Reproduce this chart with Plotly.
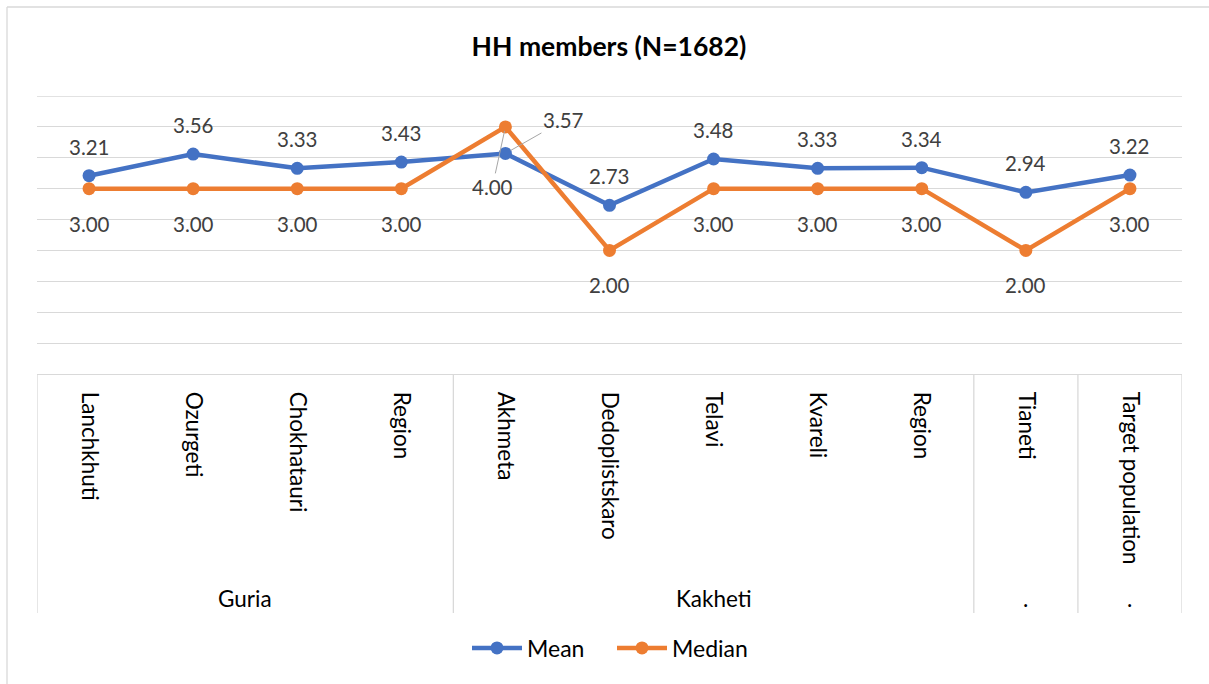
import plotly.graph_objects as go

categories = ["Lanchkhuti", "Ozurgeti", "Chokhatauri", "Region", "Akhmeta",
              "Dedoplistskaro", "Telavi", "Kvareli", "Region", "Tianeti",
              "Target population"]
groups = ["Guria", "Kakheti", ".", "."]
group_sizes = [4, 5, 1, 1]
mean_vals = [3.21, 3.56, 3.33, 3.43, 3.57, 2.73, 3.48, 3.33, 3.34, 2.94, 3.22]
median_vals = [3.00, 3.00, 3.00, 3.00, 4.00, 2.00, 3.00, 3.00, 3.00, 2.00, 3.00]
y_max = 4.5

BLUE = "#4472C4"
ORANGE = "#ED7D31"
FONT = "Lato"

# plot area in pixels
L, R, T, B = 37, 1182, 96, 374
W, H = 1209, 684
PW, PH = R - L, B - T

def py(pix):  # pixel y -> paper y
    return (B - pix) / PH

def px(pix):  # pixel x -> paper x
    return (pix - L) / PW

xs = list(range(len(categories)))

fig = go.Figure()
fig.add_trace(go.Scatter(x=xs, y=mean_vals, mode="lines+markers", name="Mean",
                         line=dict(color=BLUE, width=4.5),
                         marker=dict(color=BLUE, size=13), hoverinfo="skip"))
fig.add_trace(go.Scatter(x=xs, y=median_vals, mode="lines+markers", name="Median",
                         line=dict(color=ORANGE, width=4.5),
                         marker=dict(color=ORANGE, size=13), hoverinfo="skip"))

ann = []
lblfont = dict(family=FONT, size=20.5, color="#404040")
for i, (m, md) in enumerate(zip(mean_vals, median_vals)):
    if categories[i] == "Akhmeta":
        ann.append(dict(x=i, y=m, xref="x", yref="y", text=f"{m:.2f}",
                        showarrow=True, arrowhead=0, arrowwidth=1,
                        arrowcolor="#a6a6a6", ax=58, ay=-33, standoff=6,
                        font=lblfont))
        ann.append(dict(x=i, y=md, xref="x", yref="y", text=f"{md:.2f}",
                        showarrow=True, arrowhead=0, arrowwidth=1,
                        arrowcolor="#a6a6a6", ax=-13, ay=60, standoff=4,
                        font=lblfont))
        continue
    ann.append(dict(x=i, y=m, xref="x", yref="y", text=f"{m:.2f}",
                    showarrow=False, yshift=29, font=lblfont))
    ann.append(dict(x=i, y=md, xref="x", yref="y", text=f"{md:.2f}",
                    showarrow=False, yshift=-35, font=lblfont))

# group labels and dividers
shapes = []
start = 0
div_bottom = py(613)
GRID = "#d9d9d9"
shapes.append(dict(type="line", xref="x", yref="paper", x0=-0.5, x1=-0.5,
                   y0=0, y1=div_bottom, line=dict(color=GRID, width=1.3)))
for g, n in zip(groups, group_sizes):
    center = start + (n - 1) / 2
    ann.append(dict(x=center, y=py(598), xref="x", yref="paper", text=g,
                    showarrow=False, yanchor="middle",
                    font=dict(family=FONT, size=22.5, color="#000000")))
    end = start + n - 0.5
    shapes.append(dict(type="line", xref="x", yref="paper", x0=end, x1=end,
                       y0=0, y1=div_bottom, line=dict(color=GRID, width=1.3)))
    start += n

# top gridline at the upper end of the value axis
shapes.append(dict(type="line", xref="paper", yref="y", x0=0, x1=1,
                   y0=y_max, y1=y_max, line=dict(color=GRID, width=1.3),
                   layer="below"))

# outer chart border (left and top visible)
shapes.append(dict(type="line", xref="paper", yref="paper", x0=px(7), x1=px(7),
                   y0=py(H + 5), y1=py(7), line=dict(color=GRID, width=1.3)))
shapes.append(dict(type="line", xref="paper", yref="paper", x0=px(7), x1=px(W + 5),
                   y0=py(7), y1=py(7), line=dict(color=GRID, width=1.3)))

fig.update_layout(
    width=W, height=H,
    margin=dict(l=L, r=W - R, t=T, b=H - B, pad=0),
    paper_bgcolor="white", plot_bgcolor="white",
    title=dict(text="<b>HH members (N=1682)</b>", x=px(609), xref="paper",
               xanchor="center", y=1 - 47 / H, yanchor="middle",
               font=dict(family=FONT, size=26.5, color="#000000")),
    xaxis=dict(range=[-0.5, len(categories) - 0.5], tickvals=xs,
               ticktext=categories, tickangle=90, showgrid=False,
               zeroline=False, showline=True, linecolor=GRID, linewidth=1.3,
               ticks="", ticklabelstandoff=12,
               tickfont=dict(family=FONT, size=22.5, color="#000000")),
    yaxis=dict(range=[0, y_max], dtick=0.5, showgrid=True, gridcolor=GRID,
               gridwidth=1.3, showticklabels=False, zeroline=False,
               showline=False, ticks=""),
    legend=dict(orientation="h", x=px(612), xanchor="center", y=py(648),
                yanchor="middle", font=dict(family=FONT, size=23, color="#000000"),
                itemwidth=50, entrywidth=80, entrywidthmode="pixels",
                bgcolor="rgba(0,0,0,0)"),
    annotations=ann, shapes=shapes, showlegend=True,
)

fig.write_html("out.html", config={"displayModeBar": False},
               post_script="document.body.style.margin='0';"
                           "document.body.style.overflow='hidden';")
